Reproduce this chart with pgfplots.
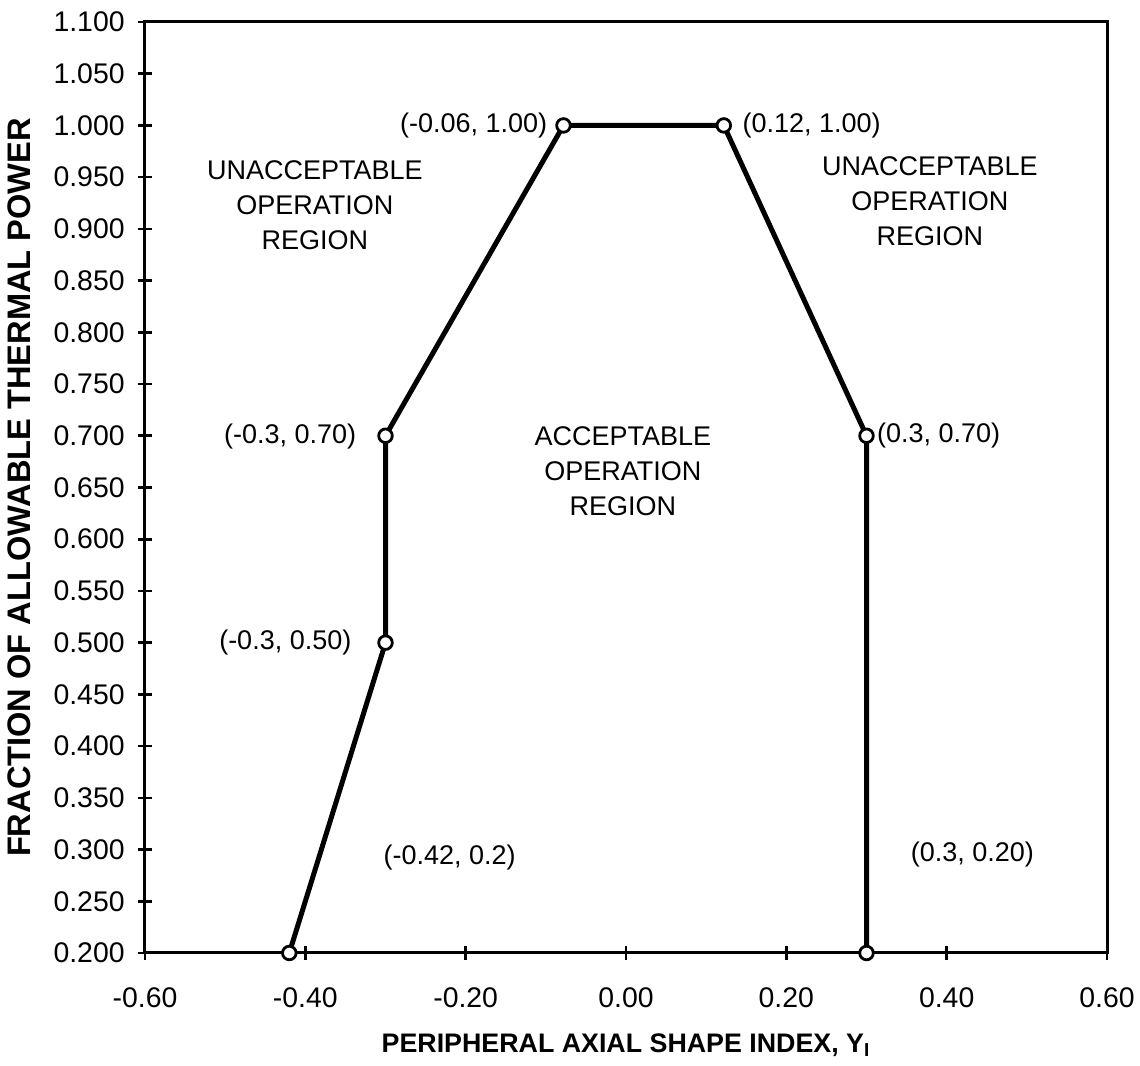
\documentclass[border=0pt]{standalone}
\usepackage{fontspec}
\setmainfont{Liberation Sans}
\usepackage{pgfplots}
\pgfplotsset{compat=1.18}
\begin{document}
\fontsize{13.5}{17.5}\selectfont
\begin{tikzpicture}
\begin{axis}[
  width=481pt, height=465.5pt, scale only axis,
  xmin=-0.6, xmax=0.6, ymin=0.2, ymax=1.1,
  xtick={-0.6,-0.4,...,0.6},
  ytick={0.2,0.25,...,1.1},
  axis line style={line width=1.5pt},
  tick style={line width=1.3pt, black},
  major tick length=7pt,
  tick align=center,
  xtick pos=bottom, ytick pos=left,
  xticklabel style={/pgf/number format/.cd, fixed, fixed zerofill, precision=2, assume math mode=true},
  yticklabel style={/pgf/number format/.cd, fixed, fixed zerofill, precision=3, assume math mode=true},
  ticklabel style={font=\fontsize{14.2}{16}\selectfont},
  xticklabel shift=9pt,
  yticklabel shift=2pt,
  xlabel={\fontsize{13.4}{16}\selectfont\bfseries PERIPHERAL AXIAL SHAPE INDEX, Y\textsubscript{I}},
  ylabel={\fontsize{16.3}{18}\selectfont\bfseries FRACTION OF ALLOWABLE THERMAL POWER},
  xlabel style={yshift=-4pt},
  ylabel style={yshift=2pt},
  clip=false,
]
\addplot[black, line width=2.5pt, mark=*, mark options={fill=white, draw=black, line width=1.4pt}, mark size=3.4pt]
coordinates {(-0.42,0.2) (-0.3,0.5) (-0.3,0.7) (-0.078,1.0) (0.122,1.0) (0.3,0.7) (0.3,0.2)};
\coordinate (bl) at (rel axis cs:0,0);
\coordinate (tr) at (rel axis cs:1,1);
\node at (axis cs:-0.19,1.0) {(-0.06, 1.00)};
\node at (axis cs:0.2315,1.0) {(0.12, 1.00)};
\node[align=center] at (axis cs:-0.388,0.923) {UNACCEPTABLE\\OPERATION\\REGION};
\node[align=center] at (axis cs:0.379,0.927) {UNACCEPTABLE\\OPERATION\\REGION};
\node at (axis cs:-0.419,0.699) {(-0.3, 0.70)};
\node[align=center] at (axis cs:-0.004,0.666) {ACCEPTABLE\\OPERATION\\REGION};
\node at (axis cs:0.39,0.70) {(0.3, 0.70)};
\node at (axis cs:-0.425,0.5) {(-0.3, 0.50)};
\node at (axis cs:-0.22,0.292) {(-0.42, 0.2)};
\node at (axis cs:0.432,0.295) {(0.3, 0.20)};
\end{axis}
\pgfresetboundingbox
\path[use as bounding box] ([shift={(-72.5pt,-56.5pt)}]bl) rectangle ([shift={(16.5pt,11pt)}]tr);
\end{tikzpicture}
\end{document}
